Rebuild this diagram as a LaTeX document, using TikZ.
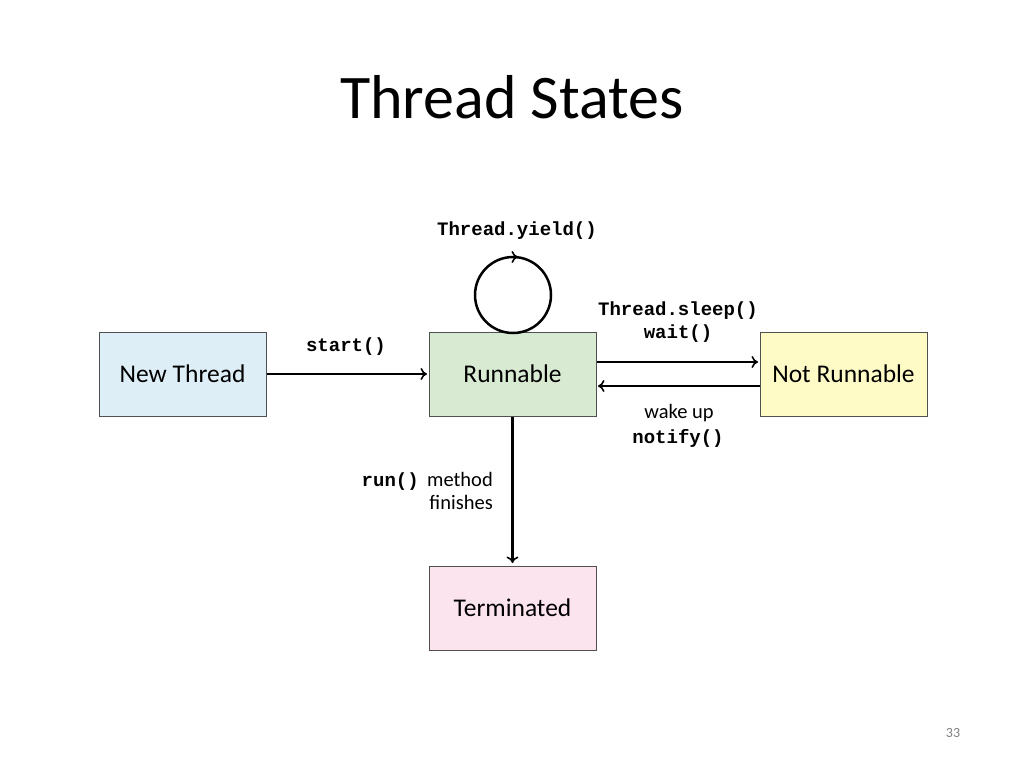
\documentclass[tikz,border=0pt]{standalone}
\usepackage{fontspec}
\setmainfont{Carlito}
\setmonofont{Liberation Mono}
\usetikzlibrary{arrows.meta}
\definecolor{cblue}{HTML}{DEEEF6}
\definecolor{cgreen}{HTML}{D9EAD3}
\definecolor{cyellow}{HTML}{FFFBC7}
\definecolor{cpink}{HTML}{FCE4EE}
\definecolor{cborder}{HTML}{505050}
\tikzset{
  statebox/.style={draw=cborder, line width=1pt, minimum width=167pt, minimum height=84pt, inner sep=0pt, font=\fontsize{25.5}{30}\selectfont},
  tip/.style={-{To[length=6.5pt,width=12pt,line width=1.6pt]}},
  conn/.style={line width=2.5pt, tip, shorten >=1.5pt},
  lbl/.style={font=\fontsize{20.5}{24}\selectfont, inner sep=0pt},
  code/.style={font=\fontsize{19}{23}\selectfont\ttfamily\bfseries, inner sep=0pt}
}
\begin{document}
\begin{tikzpicture}[x=1pt,y=-1pt]
\useasboundingbox (0,0) rectangle (1024,768);
\node[font=\fontsize{62}{70}\selectfont, anchor=base] (title) at (512,118) {Thread States};

\node[statebox, fill=cblue] (new) at (182.5,374) {New Thread};
\node[statebox, fill=cgreen] (run) at (512.5,374) {Runnable};
\node[statebox, fill=cyellow] (nr) at (843.5,374) {Not Runnable};
\node[statebox, fill=cpink] (term) at (512.5,608) {Terminated};

\draw[conn] (new.east) -- (run.west);
\node[code] (lstart) at (346,347) {start()};

\draw[conn] (run.east |- 0,362) -- (nr.west |- 0,362);
\draw[conn] (nr.west |- 0,386) -- (run.east |- 0,386);
\node[code] (lsleep) at (678,311) {Thread.sleep()};
\node[code] (lwait) at (678,334) {wait()};
\node[lbl] (lwake) at (679,413) {wake up};
\node[code] (lnotify) at (678,438) {notify()};

\draw[conn, shorten >=2.5pt] (run.south) -- (term.north);
\node[lbl, anchor=base east] (lmethod) at (493,486) {method};
\node[code, anchor=base east] (lrun) at ([xshift=-8pt]lmethod.base west) {run()};
\node[lbl, anchor=base east] (lfin) at (493,509) {finishes};

\coordinate (lc) at (513,295);
\draw[line width=2.5pt] (lc) circle[radius=38];
\coordinate (ltop) at (513,257);
\draw[line width=2.5pt, tip] ([xshift=-3pt]ltop) -- ([xshift=5pt]ltop);
\node[code] (lyield) at (517,231) {Thread.yield()};

\node[font=\fontsize{14}{16}\selectfont, text=gray] (page) at (953,733) {33};
\end{tikzpicture}
\end{document}
